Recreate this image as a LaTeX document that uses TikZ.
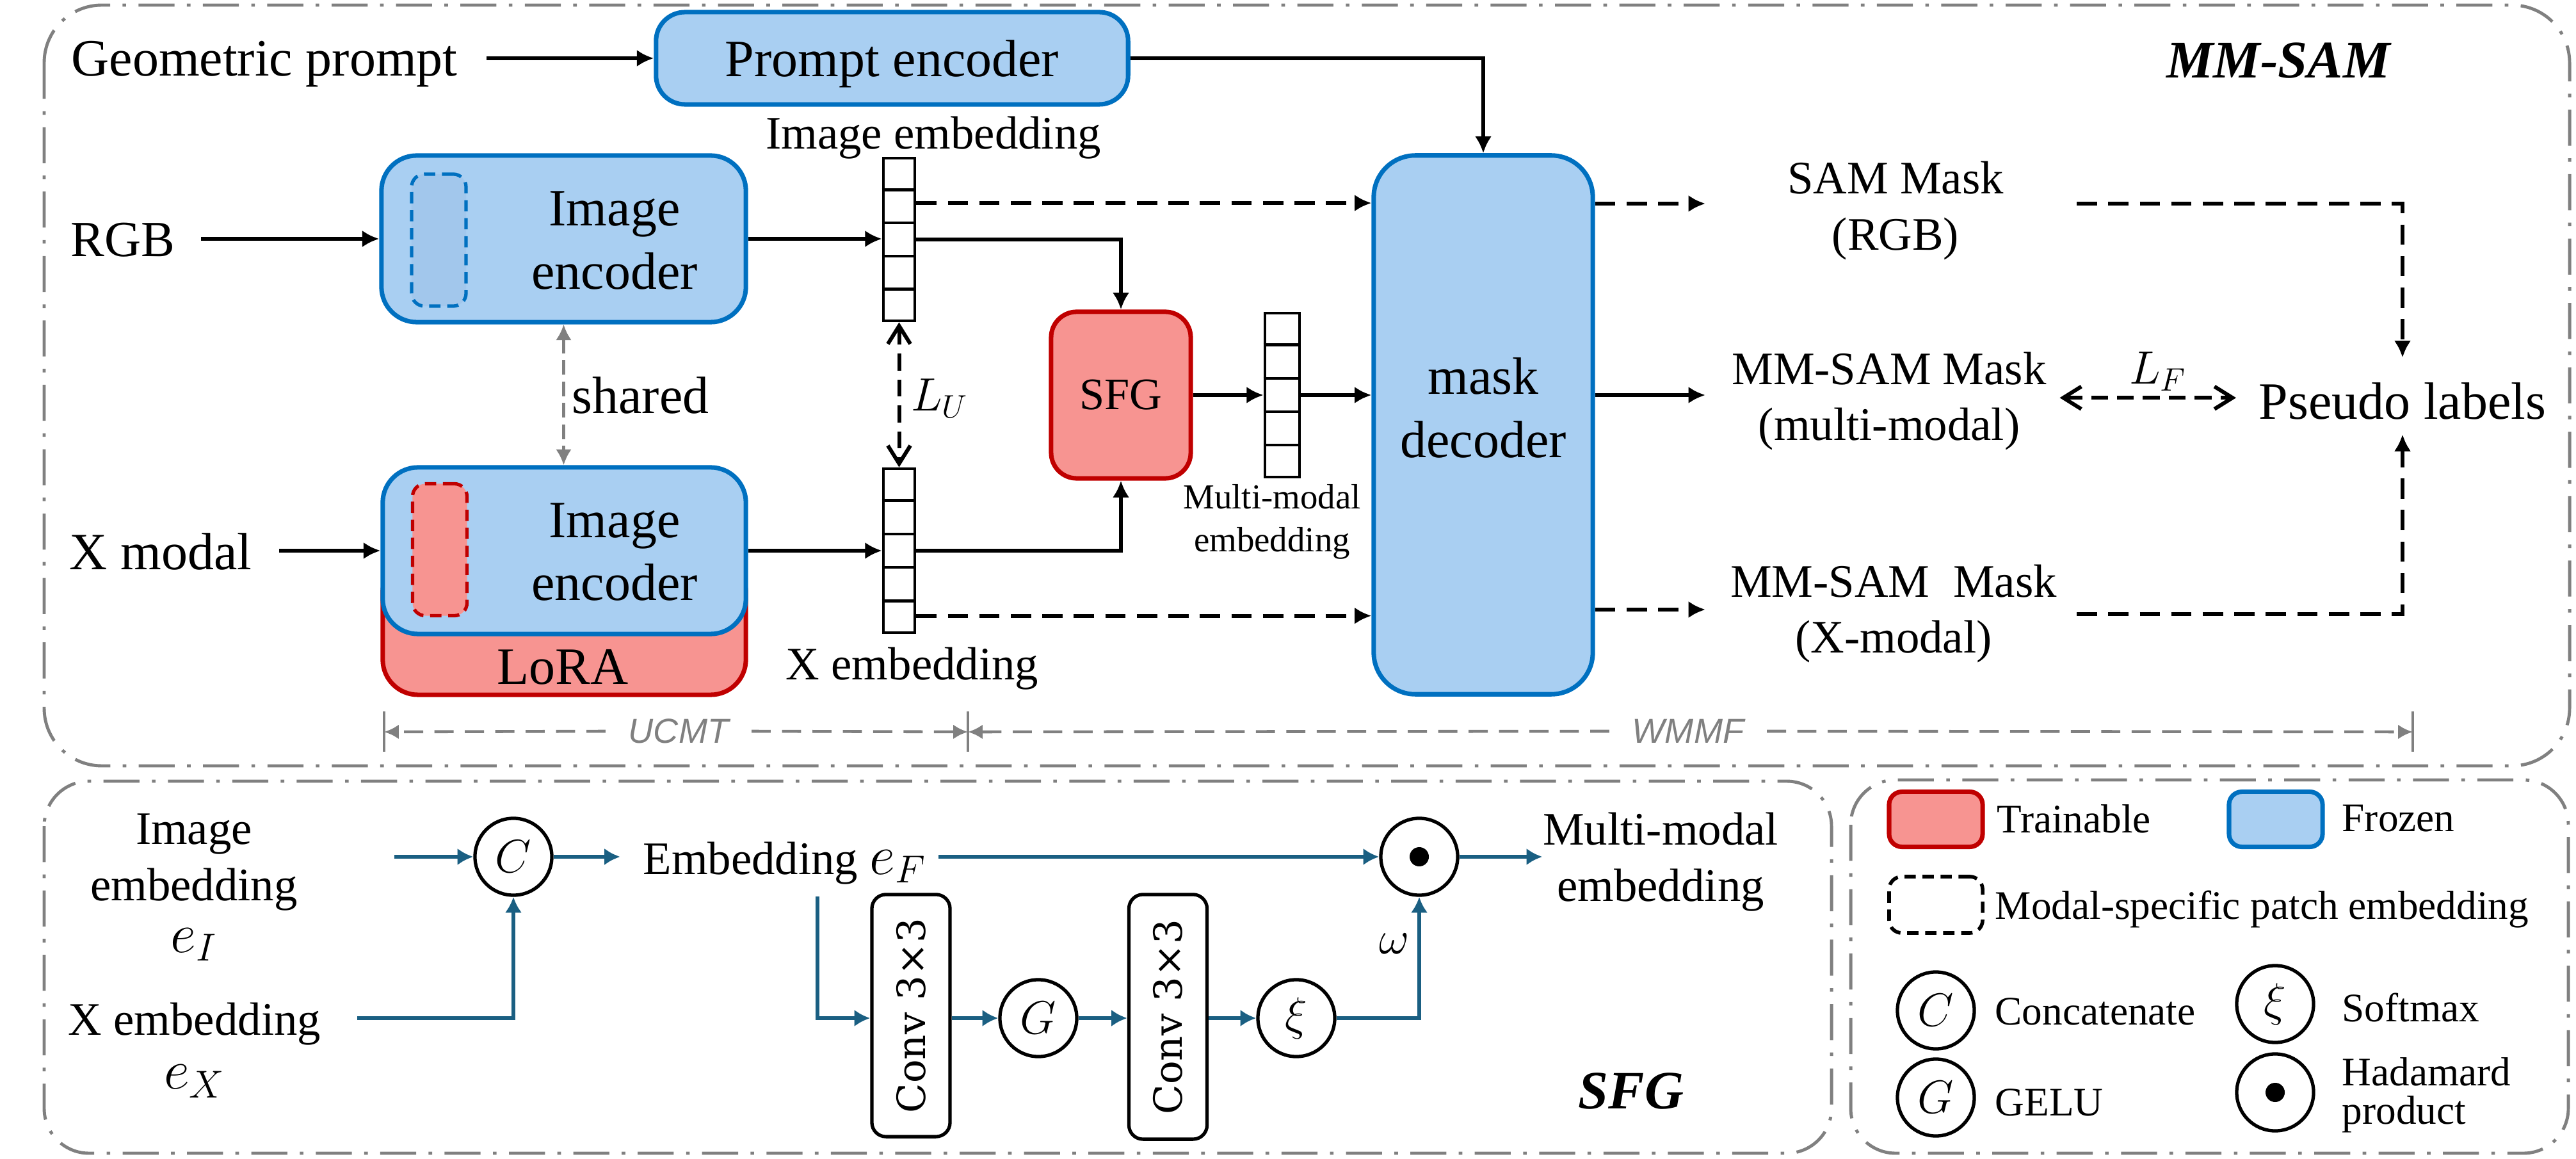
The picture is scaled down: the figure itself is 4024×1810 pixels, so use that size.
\documentclass[tikz,border=0pt]{standalone}
\usepackage{fontspec}
\setmainfont{Liberation Serif}
\newfontfamily\dimfont{Liberation Sans}
\newfontfamily\convfont{DejaVu Serif}
\usetikzlibrary{arrows.meta,calc}
\definecolor{fzf}{RGB}{169,207,242}
\definecolor{fzb}{RGB}{0,112,192}
\definecolor{fzin}{RGB}{162,199,236}
\definecolor{trf}{RGB}{247,148,145}
\definecolor{trb}{RGB}{192,0,0}
\definecolor{gframe}{RGB}{128,128,128}
\definecolor{sblue}{RGB}{26,95,130}
\newcommand\mymath[1]{{\fontsize{23}{25}\selectfont$#1$}}
\begin{document}
\begin{tikzpicture}[x=0.01cm,y=-0.01cm,
 frame/.style={draw=gframe, line width=1.4pt, dash pattern=on 16pt off 5.5pt on 1.6pt off 5.5pt},
 frozen/.style={draw=fzb, fill=fzf, line width=2pt},
 trainable/.style={draw=trb, fill=trf, line width=2pt},
 txt/.style={inner sep=0pt, font=\fontsize{23.3}{28}\selectfont},
 stxt/.style={inner sep=0pt, align=center, font=\fontsize{20.7}{25}\selectfont},
 legtxt/.style={inner sep=0pt, anchor=west, font=\fontsize{18}{21}\selectfont},
 arr/.style={line width=1.7pt, -{Latex[length=7.5pt,width=7.5pt]}},
 darr/.style={arr, dash pattern=on 9pt off 5pt},
 barr/.style={draw=sblue, line width=1.7pt, -{Latex[length=7pt,width=7.5pt]}},
 vecbox/.style={draw, fill=white, line width=1.3pt, inner sep=0pt},
 opc/.style={circle, draw, line width=1.5pt, minimum size=12mm, inner sep=0pt, font=\fontsize{22}{26}\selectfont},
 convbox/.style={draw, line width=1.5pt, rounded corners=2.2mm, minimum width=12.2mm, minimum height=37.8mm, inner sep=0pt},
 gdim/.style={draw=gframe, line width=1.3pt, dash pattern=on 8.5pt off 5pt, -{Latex[length=6.5pt,width=6.5pt]}},
 gtick/.style={draw=gframe, line width=1.3pt},
 dimtxt/.style={text=gframe, inner xsep=10pt, inner ysep=0pt, font=\dimfont\itshape\fontsize{15.4}{18}\selectfont},
 barb/.style={line width=1.7pt, dash pattern=on 7.5pt off 4pt, {Straight Barb[length=8pt,width=10pt]}-{Straight Barb[length=8pt,width=10pt]}},
 inpatch/.style={line width=1.5pt, dash pattern=on 5pt off 3pt, rounded corners=2mm, minimum width=8.5mm, minimum height=20.6mm, inner sep=0pt}
]
\useasboundingbox (0,0) rectangle (4024,1810);

% frames
\draw[frame, rounded corners=9mm] (69,8) rectangle (4014,1196);
\draw[frame, rounded corners=7mm] (69,1220) rectangle (2861,1801);
\draw[frame, rounded corners=7mm] (2891,1218) rectangle (4012,1801);

% ---------- MM-SAM ----------
\node[txt] (gp) at (413,100.5) {Geometric prompt};
\node[frozen, rounded corners=4.5mm, minimum width=73.7mm, minimum height=14.4mm, font=\fontsize{23.3}{28}\selectfont, text depth=0pt] (pe) at (1393.5,91) {Prompt encoder};
\node[txt, font=\fontsize{23.5}{28}\selectfont\bfseries\itshape] (mmsam) at (3559,95) {MM-SAM};

% encoders
\node[frozen, rounded corners=5.5mm, minimum width=56.9mm, minimum height=26mm] (e1) at (880.5,373) {};
\node[inpatch, draw=fzb, fill=fzin] (e1p) at (685.5,375) {};
\node[txt, align=center] (e1t) at (960,375.5) {Image\\encoder};
\node[txt, font=\fontsize{22.5}{28}\selectfont] (rgb) at (192,375) {RGB};

\node[trainable, rounded corners=5.5mm, minimum width=56.7mm, minimum height=21.5mm] (lora) at (881.5,977.5) {};
\node[txt] (lorat) at (879,1042) {LoRA};
\node[frozen, rounded corners=5.5mm, minimum width=56.7mm, minimum height=26mm] (e2) at (881.5,860) {};
\node[inpatch, draw=trb, fill=trf] (e2p) at (687,858.5) {};
\node[txt, align=center] (e2t) at (960,862) {Image\\encoder};
\node[txt] (xm) at (251,861) {X modal};

% vectors
\node[vecbox, minimum width=4.9mm, minimum height=25.4mm] (v1) at (1404.5,374) {};
\node[vecbox, minimum width=4.9mm, minimum height=25.6mm] (v2) at (1404.5,860) {};
\node[vecbox, minimum width=5.4mm, minimum height=25.6mm] (mv) at (2003,617) {};
\foreach \v in {v1,v2,mv}{
  \foreach \f in {0.2,0.4,0.6,0.8}{
    \draw[line width=1.3pt] ($(\v.north west)!\f!(\v.south west)$) -- ($(\v.north east)!\f!(\v.south east)$);
  }
}
\node[stxt] (v1l) at (1458,215) {Image embedding};
\node[stxt] (v2l) at (1425,1044) {X embedding};
\node[inner sep=0pt, align=center, font=\fontsize{15.6}{19}\selectfont] (mvl) at (1987,815) {Multi-modal\\embedding};

% SFG block
\node[trainable, rounded corners=4mm, minimum width=21.8mm, minimum height=26mm, font=\fontsize{20}{24}\selectfont] (sfg) at (1751,617) {SFG};

% mask decoder
\node[frozen, rounded corners=6.5mm, minimum width=34.2mm, minimum height=84.1mm] (md) at (2317,663.5) {};
\node[txt, align=center] (mdt) at (2317,637) {mask\\decoder};

% outputs
\node[stxt] (o1) at (2961,329) {SAM Mask\\(RGB)};
\node[stxt] (o2) at (2951,626.5) {MM-SAM Mask\\(multi-modal)};
\node[stxt] (o3) at (2958,958.5) {MM-SAM\ \ Mask\\(X-modal)};
\node[txt] (pl) at (3753,626) {Pseudo labels};
\node[txt, font=\fontsize{22}{26}\selectfont] (lf) at (3371,580) {$L_F$};

\coordinate (o1in) at (2664,318);
\coordinate (o2in) at (2664,617);
\coordinate (o3in) at (2664,952);
\coordinate (o1out) at (3244,318);
\coordinate (o3out) at (3244,959);

% connectors
\draw[arr, shorten <=12.8pt] (gp.east |- pe.west) -- (pe.west);
\draw[arr] (pe.east) -| (md.north);
\draw[arr, shorten <=11.5pt] (rgb.east |- e1.west) -- (e1.west);
\draw[arr, shorten <=12pt] (xm.east |- e2.west) -- (e2.west);
\draw[arr] (e1.east) -- (e1.east -| v1.west);
\draw[arr] (e2.east) -- (v2.west);
\coordinate (v1a) at ($(v1.north east)!0.28!(v1.south east)$);
\coordinate (v2b) at ($(v2.north east)!0.89!(v2.south east)$);
\draw[darr] (v1a) -- (v1a -| md.west);
\draw[darr] (v2b) -- (v2b -| md.west);
\draw[arr] (v1.east) -| (sfg.north);
\draw[arr] (v2.east) -| (sfg.south);
\draw[arr] (sfg.east) -- (sfg.east -| mv.west);
\draw[arr] (mv.east) -- (mv.east -| md.west);
\draw[darr] (md.east |- o1in) -- (o1in);
\draw[arr] (md.east |- o2in) -- (o2in);
\draw[darr] (md.east |- o3in) -- (o3in);
\draw[darr, shorten >=10.8pt] (o1out) -| (pl.north);
\draw[darr, shorten >=6.5pt] (o3out) -| (pl.south);
\draw[barb, shorten <=5.7pt, shorten >=10pt] ([yshift=1.5pt]o2.east) -- ([yshift=1.5pt]o2.east -| pl.west);

% shared & L_U
\draw[draw=gframe, line width=1.2pt, dash pattern=on 6.5pt off 3pt, {Latex[length=7pt,width=7pt]}-{Latex[length=7pt,width=7pt]}] (e1.south) -- (e1.south |- e2.north);
\node[txt, anchor=west] (sh) at (893,617) {shared};
\draw[barb] (v1.south) -- (v2.north);
\node[txt, font=\fontsize{22}{26}\selectfont] (lu) at (1468,622) {$L_U$};

% dimension line
\coordinate (t1) at (600,1143);
\coordinate (t2) at (1512,1143);
\coordinate (t3) at (3769,1143);
\draw[gtick] (600,1111) -- (600,1174);
\draw[gtick] (1512,1111) -- (1512,1174);
\draw[gtick] (3769,1111) -- (3769,1174);
\node[dimtxt] (ucmt) at (1060,1142) {UCMT};
\node[dimtxt] (wmmf) at (2637,1142) {WMMF};
\draw[gdim] (ucmt.west) -- (t1);
\draw[gdim] (ucmt.east) -- (t2);
\draw[gdim] (wmmf.west) -- (t2);
\draw[gdim] (wmmf.east) -- (t3);

% ---------- SFG panel ----------
\node[stxt] (ei) at (303,1386) {Image\\embedding\\[-2pt]\mymath{e_I}};
\node[stxt] (ex) at (304,1640) {X embedding\\[-1pt]\mymath{e_X}};
\node[opc] (cc) at (802,1338) {$C$};
\coordinate (eiout) at (616,1338);
\coordinate (exout) at (558,1590);
\draw[barr] (eiout) -- (cc.west);
\draw[barr] (exout) -| (cc.south);
\node[stxt, anchor=west] (ef) at (1004,1348) {Embedding \mymath{e_F}};
\draw[barr, shorten >=10pt] (cc.east) -- (cc.east -| ef.west);
\node[opc] (hd) at (2217,1338) {};
\fill (hd.center) circle (1.5mm);
\draw[barr, shorten <=5.4pt] (ef.east |- hd.west) -- (hd.west);
\node[stxt] (mme) at (2594,1346) {Multi-modal\\embedding};
\draw[barr] (hd.east) -- (hd.east -| mme.west);
\coordinate (efdown) at (1277,1400);
\node[convbox] (c1) at (1423,1586) {};
\node[rotate=90, inner sep=0pt, font=\convfont\fontsize{17.3}{20}\selectfont] (c1t) at (c1.center) {Conv 3×3};
\node[opc] (g) at (1622,1590) {$G$};
\node[convbox, minimum height=38.2mm] (c2) at (1824.5,1588) {};
\node[rotate=90, inner sep=0pt, font=\convfont\fontsize{17.3}{20}\selectfont] (c2t) at (c2.center) {Conv 3×3};
\node[opc] (xi) at (2025,1590) {$\xi$};
\draw[barr] (efdown) |- (c1.west |- g.west);
\draw[barr] (c1.east |- g.west) -- (g.west);
\draw[barr] (g.east) -- (g.east -| c2.west);
\draw[barr] (c2.east |- xi.west) -- (xi.west);
\draw[barr] (xi.east) -| (hd.south);
\node[txt, font=\fontsize{22}{26}\selectfont] (om) at (2178,1474) {$\omega$};
\node[txt, font=\fontsize{24}{28}\selectfont\bfseries\itshape] (sfgl) at (2548,1704) {SFG};

% ---------- legend ----------
\node[trainable, rounded corners=2mm, minimum width=14.6mm, minimum height=8.6mm] (lt) at (3024,1279.5) {};
\node[legtxt] (ltt) at (3119,1278.5) {Trainable};
\node[frozen, rounded corners=2mm, minimum width=14.6mm, minimum height=8.6mm] (lfz) at (3555,1279.5) {};
\node[legtxt] (lfzt) at (3658,1278.5) {Frozen};
\node[draw, line width=1.6pt, dash pattern=on 5pt off 3pt, rounded corners=2mm, minimum width=14.6mm, minimum height=8.8mm] (ld) at (3024,1413) {};
\node[legtxt] (ldt) at (3116,1420) {Modal-specific patch embedding};
\node[opc] (lc) at (3024,1578) {$C$};
\node[legtxt] (lct) at (3116,1580) {Concatenate};
\node[opc] (lx) at (3554,1568) {$\xi$};
\node[legtxt] (lxt) at (3658,1574) {Softmax};
\node[opc] (lg) at (3024,1714) {$G$};
\node[legtxt] (lgt) at (3116,1722) {GELU};
\node[opc] (lh) at (3554,1706) {};
\fill (lh.center) circle (1.5mm);
\node[legtxt, align=left, font=\fontsize{18}{17}\selectfont] (lht) at (3658,1710) {Hadamard\\product};
\end{tikzpicture}
\end{document}
